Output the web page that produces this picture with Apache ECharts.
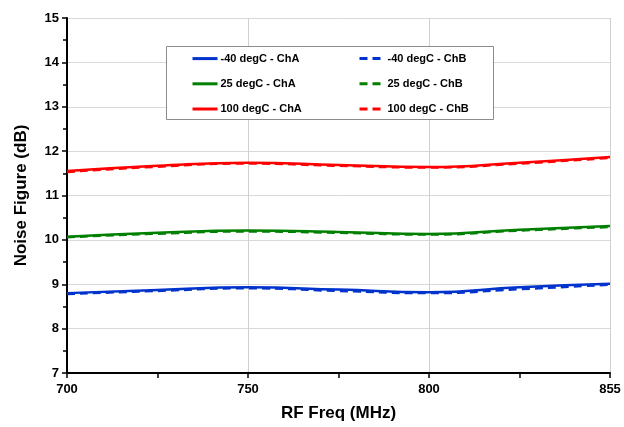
<!DOCTYPE html>
<html>
<head>
<meta charset="utf-8">
<script src="https://cdn.jsdelivr.net/npm/echarts@6/dist/echarts.min.js"></script>
<style>html,body{margin:0;padding:0;background:#fff;}#c{width:624px;height:427px;}</style>
</head>
<body>
<div id="c"></div>
<script>
const freqs = ['700', '725', '750', '775', '800', '825', '855'];
const yTicks = [7, 8, 9, 10, 11, 12, 13, 14, 15];
const m40ChA = [8.80, 8.87, 8.93, 8.88, 8.82, 8.93, 9.01];
const m40ChB = [8.78, 8.85, 8.91, 8.85, 8.80, 8.89, 8.99];
const p25ChA = [10.07, 10.16, 10.21, 10.18, 10.13, 10.23, 10.31];
const p25ChB = [10.06, 10.14, 10.19, 10.16, 10.12, 10.21, 10.29];
const p100ChA = [11.55, 11.67, 11.74, 11.69, 11.64, 11.74, 11.87];
const p100ChB = [11.53, 11.65, 11.72, 11.67, 11.63, 11.72, 11.85];

const names = ['-40 degC - ChA', '25 degC - ChA', '100 degC - ChA', '-40 degC - ChB', '25 degC - ChB', '100 degC - ChB'];
const colors = ['#0033cc', '#008000', '#ff0000'];

function mk(name, data, color, dashed) {
  return {
    name: name, type: 'line', data: data, smooth: 0.5, symbol: 'none', symbolSize: 0,
    lineStyle: { color: color, width: 2.5, type: dashed ? [8, 5] : 'solid' },
    itemStyle: { color: color },
    z: dashed ? 2 : 3
  };
}

const chart = echarts.init(document.getElementById('c'));
const legendText = { fontFamily: 'Liberation Sans, Arial, sans-serif', fontWeight: 'bold', fontSize: 11, color: '#000', padding: [0, 0, 0, -2] };
const legendCommon = {
  orient: 'vertical', top: 53, padding: 0, itemWidth: 25, itemHeight: 14, itemGap: 14,
  textStyle: legendText, z: 20,
  itemStyle: { opacity: 0 },
  lineStyle: { width: 3 }
};
chart.setOption({
  animation: false,
  backgroundColor: '#fff',
  grid: { left: 67, right: 14, top: 18, bottom: 54 },
  graphic: [{
    type: 'rect', left: 166, top: 46, shape: { width: 327, height: 73 },
    style: { fill: '#fff', stroke: '#8c8c8c', lineWidth: 1 }, z: 10
  }],
  legend: [
    Object.assign({ data: names.slice(0, 3), left: 191 }, legendCommon),
    Object.assign({ data: names.slice(3), left: 358 }, legendCommon)
  ],
  xAxis: {
    type: 'category', data: freqs, boundaryGap: false,
    name: 'RF Freq (MHz)', nameLocation: 'middle', nameGap: 32,
    nameTextStyle: { fontFamily: 'Liberation Sans, Arial, sans-serif', fontWeight: 'bold', fontSize: 17, color: '#000' },
    axisLine: { lineStyle: { color: '#000', width: 2 } },
    axisTick: { interval: 0, length: 5, lineStyle: { color: '#000', width: 1.5 } },
    axisLabel: { interval: 1, margin: 10, fontFamily: 'Liberation Sans, Arial, sans-serif', fontWeight: 'bold', fontSize: 13, color: '#000' },
    splitLine: { show: true, interval: 1, lineStyle: { color: '#d0d0d0', width: 1 } }
  },
  yAxis: {
    type: 'value', min: yTicks[0], max: yTicks[yTicks.length - 1], interval: 1,
    name: 'Noise Figure (dB)', nameLocation: 'middle', nameGap: 37,
    nameTextStyle: { fontFamily: 'Liberation Sans, Arial, sans-serif', fontWeight: 'bold', fontSize: 17, color: '#000' },
    axisLine: { show: true, lineStyle: { color: '#000', width: 2 } },
    axisTick: { show: true, length: 5, lineStyle: { color: '#000', width: 1.5 } },
    minorTick: { show: true, splitNumber: 2, length: 4, lineStyle: { color: '#000', width: 1.5 } },
    axisLabel: { margin: 8, fontFamily: 'Liberation Sans, Arial, sans-serif', fontWeight: 'bold', fontSize: 13, color: '#000' },
    splitLine: { show: true, lineStyle: { color: '#d9d9d9', width: 1 } }
  },
  series: [
    mk(names[3], m40ChB, colors[0], true),
    mk(names[4], p25ChB, colors[1], true),
    mk(names[5], p100ChB, colors[2], true),
    mk(names[0], m40ChA, colors[0], false),
    mk(names[1], p25ChA, colors[1], false),
    mk(names[2], p100ChA, colors[2], false)
  ]
});
</script>
</body>
</html>
